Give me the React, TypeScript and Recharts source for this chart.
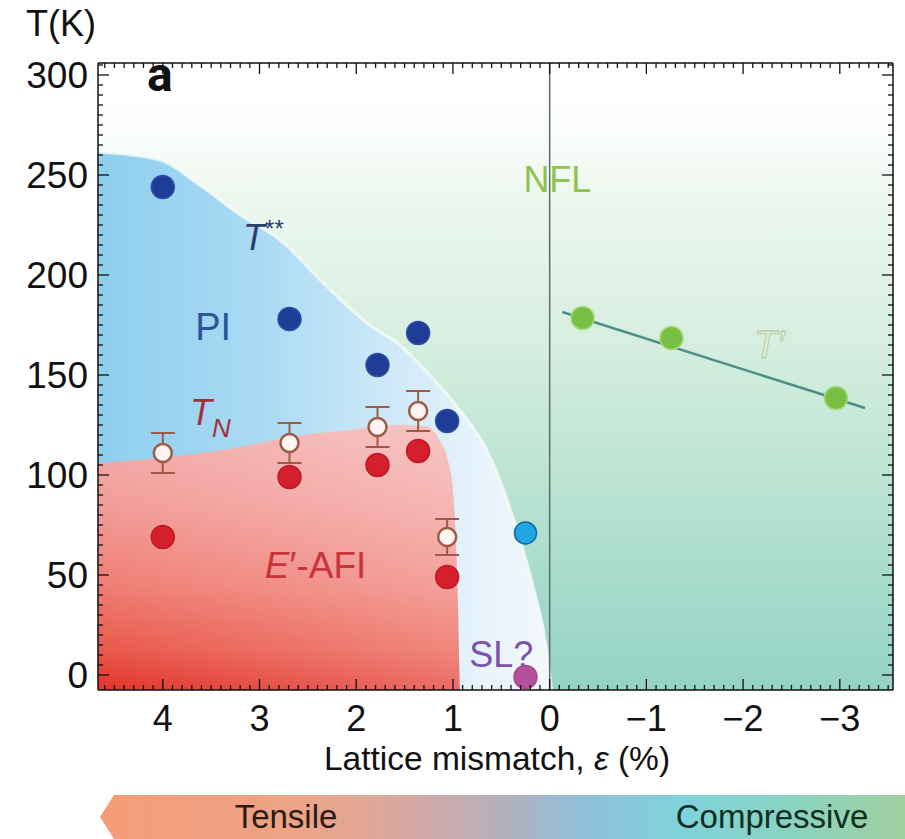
import { ComposedChart, Area, Line, Scatter, XAxis, YAxis, ErrorBar } from 'recharts';

// ---------------------------------------------------------------------------
// Axis ranges (strain in %, reversed; temperature in K)
// ---------------------------------------------------------------------------
const X_MIN = -3.55;
const X_MAX = 4.67;
const T_MIN = -7.5;
const T_MAX = 306;

const xMinorTicks = Array.from({ length: 82 }, (_, i) => Math.round(-35 + i) / 10);
const tMinorTicks = Array.from({ length: 62 }, (_, i) => i * 5);

// ---------------------------------------------------------------------------
// Data
// ---------------------------------------------------------------------------
// T** crossover (dark blue)
const tssX = [4.0, 2.69, 1.78, 1.36, 1.06];
const tssT = [244, 178, 155, 171, 127];
// T_N (open circles, with error bars)
const tnX = [4.0, 2.69, 1.78, 1.36, 1.06];
const tnT = [111, 116, 124, 132, 69];
const tnErr = [10, 10, 10, 10, 9];
// E'-AFI points (red)
const afiX = [4.0, 2.69, 1.78, 1.36, 1.06];
const afiT = [69, 99, 105, 112, 49];
// single light blue point and the SL? point
const cyanX = [0.25];
const cyanT = [71];
const slX = [0.25];
const slT = [-1];
// T' under compression (green) and its linear fit
const tpX = [-0.34, -1.26, -2.96];
const tpT = [178.5, 168.5, 138.5];
const tpFitX = [-0.13, -3.26];
const tpFitT = [181.5, 133.5];

// Phase boundaries (shaded regions)
const domeX = [4.67, 4.03, 3.62, 3.2, 2.79, 2.27, 1.86, 1.55, 1.24, 0.93, 0.65, 0.38, 0.18, 0.03, -0.02];
const domeT = [261.5, 257.5, 245, 230, 217.5, 192.5, 175, 165, 150, 132.5, 112.5, 79, 46, 12.5, -7.5];
const afiEdgeX = [4.67, 4.03, 3.2, 2.69, 2.07, 1.55, 1.29, 1.14, 1.03, 0.98, 0.95, 0.93];
const afiEdgeT = [106, 108.5, 114, 119, 122.5, 125, 124.5, 117.5, 102.5, 77.5, 37.5, -7.5];

// Region label anchors (data units, text baseline)
const labelX = [4.03, 3.17, 3.48, 3.72, 2.42, 0.5, -0.08, -2.27];
const labelT = [292, 212.5, 167.5, 125, 48.5, 4, 241.5, 158.5];

const zip = (xs: number[], ts: number[], extra?: number[]) =>
  xs.map((x, i) => ({ x, t: ts[i], err: extra ? extra[i] : undefined }));

const bgData = [{ x: X_MAX, t: T_MAX }, { x: X_MIN, t: T_MAX }];
const zeroLine = [{ x: 0, t: T_MIN }, { x: 0, t: T_MAX }];

const FONT = '"Liberation Sans", Arial, Helvetica, sans-serif';
const BOLD_FONT = 'Roboto, "Liberation Sans", Arial, sans-serif';

const isInt = (v: number) => Math.abs(v - Math.round(v)) < 1e-6;
const fmtX = (v: number) => (v < 0 ? '\u2212' + Math.abs(v) : String(v));

// ---------------------------------------------------------------------------
// Tick renderers (ticks point inwards like the original frame)
// ---------------------------------------------------------------------------
function BottomTick({ x, y, payload }: any) {
  const v = payload.value;
  const major = isInt(v);
  return (
    <g>
      <line x1={x} x2={x} y1={y} y2={y - (major ? 11 : 5)} stroke="#111" strokeWidth={1.3} />
      {major && (
        <text x={x} y={y + 41} textAnchor="middle" fontSize={36} fontFamily={FONT} fill="#111">
          {fmtX(v)}
        </text>
      )}
    </g>
  );
}

function TopTick({ x, y, payload }: any) {
  const major = isInt(payload.value);
  return <line x1={x} x2={x} y1={y} y2={y + (major ? 11 : 5)} stroke="#111" strokeWidth={1.3} />;
}

function LeftTick({ x, y, payload }: any) {
  const v = payload.value;
  const major = v % 50 === 0;
  return (
    <g>
      <line x1={x} x2={x + (major ? 11 : 5)} y1={y} y2={y} stroke="#111" strokeWidth={1.3} />
      {major && (
        <text x={x - 10} y={y + 13} textAnchor="end" fontSize={37} fontFamily={FONT} fill="#111">
          {v}
        </text>
      )}
    </g>
  );
}

function RightTick({ x, y, payload }: any) {
  const major = payload.value % 50 === 0;
  return <line x1={x} x2={x - (major ? 11 : 5)} y1={y} y2={y} stroke="#111" strokeWidth={1.3} />;
}

const dot = (fill: string, stroke: string, r = 11.5) => (p: any) =>
  <circle cx={p.cx} cy={p.cy} r={r} fill={fill} stroke={stroke} strokeWidth={1.5} />;

// region labels, one renderer per label
const labelShapes = [
  (p: any) => (
    <text x={p.cx} y={p.cy} textAnchor="middle" fontSize={48} fontWeight={700} fontFamily={BOLD_FONT} fill="#111">a</text>
  ),
  (p: any) => (
    <text x={p.cx} y={p.cy} fontSize={36} fontFamily={FONT} fill="#2c3d6a">
      <tspan fontStyle="italic">T</tspan>
      <tspan fontSize={24} dy={-13}>**</tspan>
    </text>
  ),
  (p: any) => (
    <text x={p.cx} y={p.cy} textAnchor="middle" fontSize={38} fontFamily={FONT} fill="#2f5596">PI</text>
  ),
  (p: any) => (
    <text x={p.cx} y={p.cy} fontSize={36} fontFamily={FONT} fill="#a5303d" fontStyle="italic">
      <tspan>T</tspan>
      <tspan fontSize={26} dy={12}>N</tspan>
    </text>
  ),
  (p: any) => (
    <text x={p.cx} y={p.cy} textAnchor="middle" fontSize={37} fontFamily={FONT} fill="#c9333a">
      <tspan fontStyle="italic">E</tspan>
      <tspan>{'\u2032-AFI'}</tspan>
    </text>
  ),
  (p: any) => (
    <text x={p.cx} y={p.cy} textAnchor="middle" fontSize={36} fontFamily={FONT} fill="#7b52ad">SL?</text>
  ),
  (p: any) => (
    <text x={p.cx} y={p.cy} textAnchor="middle" fontSize={36} fontFamily={FONT} fill="#90c44e">NFL</text>
  ),
  (p: any) => (
    <text x={p.cx} y={p.cy} textAnchor="middle" fontSize={38} fontFamily={FONT} fontStyle="italic"
      fill="#e4eed6" stroke="#a9c39a" strokeWidth={0.8}>
      {'T\u2032'}
    </text>
  ),
];

const AXIS_LINE = { stroke: '#111', strokeWidth: 1.5 };

export default function App() {
  const tss = zip(tssX, tssT);
  const tn = zip(tnX, tnT, tnErr);
  const afi = zip(afiX, afiT);
  const cyan = zip(cyanX, cyanT);
  const sl = zip(slX, slT);
  const tp = zip(tpX, tpT);
  const tpFit = zip(tpFitX, tpFitT);
  const dome = zip(domeX, domeT);
  const afiEdge = zip(afiEdgeX, afiEdgeT);
  const labels = zip(labelX, labelT);

  return (
    <div style={{ position: 'relative', width: 905, height: 839, overflow: 'hidden', background: '#fff' }}>
      <style>{'html,body{margin:0;padding:0;overflow:hidden;}'}</style>
      <ComposedChart width={905} height={839} margin={{ top: 62, right: 11, bottom: 148, left: 97 }}>
        <defs>
          <linearGradient id="bgGrad" x1="0" y1="0" x2="0" y2="1">
            <stop offset="0" stopColor="#ffffff" />
            <stop offset="0.1" stopColor="#fcfefc" />
            <stop offset="0.2" stopColor="#eef8f0" />
            <stop offset="0.45" stopColor="#d5eedf" />
            <stop offset="0.65" stopColor="#bde4d3" />
            <stop offset="0.85" stopColor="#a5dacb" />
            <stop offset="1" stopColor="#95d3c4" />
          </linearGradient>
          <linearGradient id="domeGrad" x1="0" y1="0" x2="1" y2="0">
            <stop offset="0" stopColor="#8dcfee" />
            <stop offset="0.35" stopColor="#a9daf3" />
            <stop offset="0.65" stopColor="#cfe9f8" />
            <stop offset="0.85" stopColor="#e8f3fb" />
            <stop offset="1" stopColor="#f3f8fb" />
          </linearGradient>
          <linearGradient id="afiGrad" x1="0" y1="0" x2="0" y2="1">
            <stop offset="0" stopColor="#f3b0ae" />
            <stop offset="0.3" stopColor="#f29c98" />
            <stop offset="0.6" stopColor="#ef7e75" />
            <stop offset="0.85" stopColor="#e9584b" />
            <stop offset="1" stopColor="#e2342b" />
          </linearGradient>
          <linearGradient id="afiSheen" x1="0" y1="0" x2="1" y2="0">
            <stop offset="0" stopColor="#ffffff" stopOpacity={0} />
            <stop offset="1" stopColor="#ffffff" stopOpacity={0.28} />
          </linearGradient>
        </defs>

        <XAxis type="number" dataKey="x" domain={[X_MIN, X_MAX]} reversed allowDataOverflow
          ticks={xMinorTicks} interval={0} tick={<BottomTick />} tickLine={false} tickSize={0} tickMargin={0}
          height={1} axisLine={AXIS_LINE} />
        <XAxis xAxisId="top" orientation="top" type="number" dataKey="x" domain={[X_MIN, X_MAX]} reversed
          allowDataOverflow ticks={xMinorTicks} interval={0} tick={<TopTick />} tickLine={false} tickSize={0}
          tickMargin={0} height={1} axisLine={AXIS_LINE} />
        <YAxis type="number" dataKey="t" domain={[T_MIN, T_MAX]} allowDataOverflow ticks={tMinorTicks}
          interval={0} tick={<LeftTick />} tickLine={false} tickSize={0} tickMargin={0} width={1}
          axisLine={AXIS_LINE} />
        <YAxis yAxisId="right" orientation="right" type="number" dataKey="t" domain={[T_MIN, T_MAX]}
          allowDataOverflow ticks={tMinorTicks} interval={0} tick={<RightTick />} tickLine={false}
          tickSize={0} tickMargin={0} width={1} axisLine={AXIS_LINE} />

        {/* shaded phase regions */}
        <Area data={bgData} dataKey="t" type="linear" baseValue="dataMin" fill="url(#bgGrad)" fillOpacity={1}
          stroke="none" isAnimationActive={false} />
        <Area data={dome} dataKey="t" type="monotone" baseValue="dataMin" fill="url(#domeGrad)" fillOpacity={1}
          stroke="#f7fbf7" strokeWidth={3} strokeOpacity={0.75} isAnimationActive={false} />
        <Area data={afiEdge} dataKey="t" type="monotone" baseValue="dataMin" fill="url(#afiGrad)" fillOpacity={1}
          stroke="none" isAnimationActive={false} />
        <Area data={afiEdge} dataKey="t" type="monotone" baseValue="dataMin" fill="url(#afiSheen)" fillOpacity={1}
          stroke="none" isAnimationActive={false} />

        {/* zero strain line and T' fit */}
        <Line data={zeroLine} dataKey="t" type="linear" stroke="#5d6b6a" strokeWidth={1.5} dot={false}
          isAnimationActive={false} />
        <Line data={tpFit} dataKey="t" type="linear" stroke="#4c8f86" strokeWidth={2.5} dot={false}
          isAnimationActive={false} />

        {/* data points */}
        <Scatter data={tss} dataKey="t" shape={dot('#1f3d97', '#2c4ea6')} isAnimationActive={false} />
        <Scatter data={afi} dataKey="t" shape={dot('#d3202c', '#c01824')} isAnimationActive={false} />
        <Scatter data={tn} dataKey="t" shape={(p: any) => (
          <circle cx={p.cx} cy={p.cy} r={9} fill="#fff6f2" stroke="#9d5a48" strokeWidth={2.5} />
        )} isAnimationActive={false}>
          <ErrorBar dataKey="err" direction="y" width={12} stroke="#9d5a48" strokeWidth={2} />
        </Scatter>
        <Scatter data={cyan} dataKey="t" shape={dot('#21a5e4', '#15679f', 11)} isAnimationActive={false} />
        <Scatter data={sl} dataKey="t" shape={dot('#b4509c', '#a44890')} isAnimationActive={false} />
        <Scatter data={tp} dataKey="t" shape={dot('#78c043', '#a6da78')} isAnimationActive={false} />

        {/* region labels */}
        {labels.map((d, i) => (
          <Scatter key={i} data={[d]} dataKey="t" shape={labelShapes[i]} isAnimationActive={false} />
        ))}
      </ComposedChart>

      {/* axis titles and strain bar */}
      <svg width={905} height={839} style={{ position: 'absolute', left: 0, top: 0, pointerEvents: 'none' }}>
        <defs>
          <linearGradient id="strainBar" x1="0" y1="0" x2="1" y2="0">
            <stop offset="0" stopColor="#f59c77" />
            <stop offset="0.25" stopColor="#eda487" />
            <stop offset="0.38" stopColor="#d8a8a0" />
            <stop offset="0.5" stopColor="#b4b0bd" />
            <stop offset="0.6" stopColor="#90bfd8" />
            <stop offset="0.72" stopColor="#7fd2dc" />
            <stop offset="0.85" stopColor="#88d4c2" />
            <stop offset="1" stopColor="#a0d09e" />
          </linearGradient>
        </defs>
        <text x={61} y={36} textAnchor="middle" fontSize={36} fontFamily={FONT} fill="#111">T(K)</text>
        <text x={497} y={770} textAnchor="middle" fontSize={33.5} fontFamily={FONT} fill="#111">
          Lattice mismatch, <tspan fontStyle="italic">{'\u03b5'}</tspan> (%)
        </text>
        <polygon points="100,817 114,795 905,795 905,839 114,839" fill="url(#strainBar)" />
        <text x={286} y={828} textAnchor="middle" fontSize={33} fontFamily={FONT} fill="#2a1c14">Tensile</text>
        <text x={772} y={828} textAnchor="middle" fontSize={33} fontFamily={FONT} fill="#0f2e22">Compressive</text>
      </svg>
    </div>
  );
}
